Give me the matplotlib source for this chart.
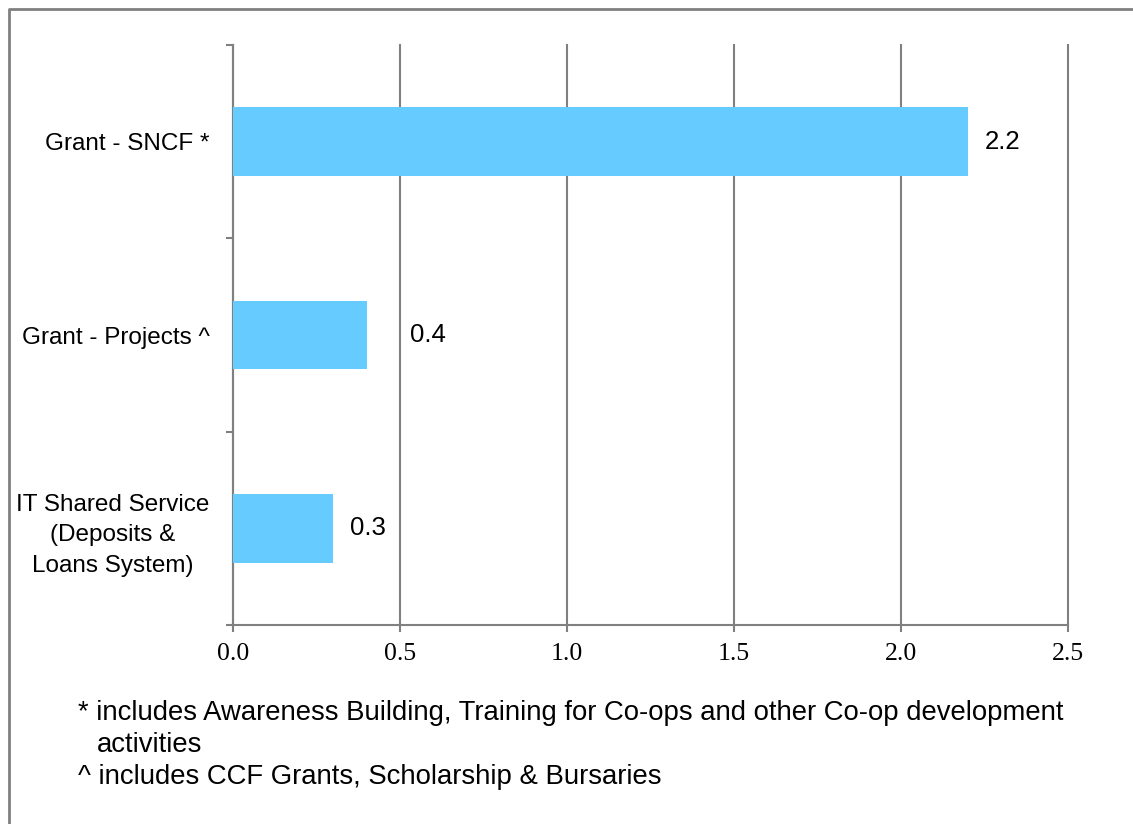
import numpy as np
import matplotlib.pyplot as plt
from matplotlib.lines import Line2D

# data
categories = ["Grant - SNCF *", "Grant - Projects ^",
              "IT Shared Service\n(Deposits &\nLoans System)"]
values = [2.2, 0.4, 0.3]
value_labels = ["2.2", "0.4", "0.3"]
xticks = [0.0, 0.5, 1.0, 1.5, 2.0, 2.5]
footnotes = ["* includes Awareness Building, Training for Co-ops and other Co-op development",
             "activities",
             "^ includes CCF Grants, Scholarship & Bursaries"]

label_pad = [12, 31, 12]  # points right of bar end
foot_x = [78, 97, 78]  # pixels
grey = "#808080"
bar_color = "#66CCFF"
sans = "Liberation Sans"
serif = "Liberation Serif"

fig = plt.figure(figsize=(11.33, 8.24), dpi=100)
ax = fig.add_axes([233 / 1133, 1 - 625 / 824, (1068 - 233) / 1133, (625 - 45) / 824])

y = np.arange(len(categories))
ax.barh(y, values, height=0.355, color=bar_color, zorder=3)

for yi, v, lab, pad in zip(y, values, value_labels, label_pad):
    ax.annotate(lab, (v, yi), xytext=(pad, 0), textcoords="offset points",
                va="center", ha="left", fontsize=18.5, family=sans)

ax.set_ylim(2.5, -0.5)
ax.set_xlim(0, 2.5)
ax.set_xticks(xticks)
ax.set_xticklabels([f"{t:.1f}" for t in xticks], family=serif, fontsize=18.5)
ax.set_yticks(y)
ax.set_yticklabels(categories, family=sans, fontsize=17.5,
                   multialignment="center", linespacing=1.5)
ax.set_yticks([-0.5, 0.5, 1.5, 2.5], minor=True)

ax.tick_params(axis="y", which="major", length=0, pad=17)
ax.tick_params(axis="y", which="minor", length=5, width=1.5, color=grey)
ax.tick_params(axis="x", length=5, width=1.5, color=grey, pad=8)

ax.grid(axis="x", color=grey, linewidth=1.5, zorder=0)
for gl in ax.get_xgridlines():
    gl.set_clip_on(False)
for s in ["top", "right"]:
    ax.spines[s].set_visible(False)
for s in ["left", "bottom"]:
    ax.spines[s].set_color(grey)
    ax.spines[s].set_linewidth(1.5)

# footnotes
for i, (line, fx) in enumerate(zip(footnotes, foot_x)):
    fig.text(fx / 1133, 1 - (713 + i * 32) / 824, line, fontsize=19.8,
             family=sans, va="center", ha="left")

# outer frame (only top and left visible)
fig.add_artist(Line2D([9 / 1133, 9 / 1133, 1.01], [-0.01, 1 - 9 / 824, 1 - 9 / 824],
                      transform=fig.transFigure, color=grey, linewidth=2))

fig.savefig("out.png", dpi=100)
